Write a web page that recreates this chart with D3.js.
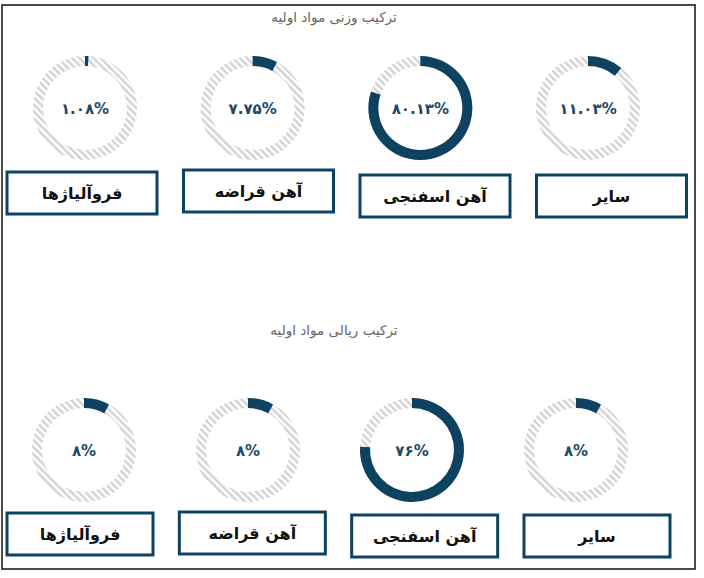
<!DOCTYPE html>
<html><head><meta charset="utf-8">
<script src="https://cdn.jsdelivr.net/npm/d3@7"></script>
<style>
html,body{margin:0;padding:0;background:#fff;}
svg{display:block;font-family:"DejaVu Sans",sans-serif;}
</style></head>
<body>
<svg id="chart" width="704" height="578"></svg>
<script>
// Data
const categories = ["سایر", "آهن اسفنجی", "آهن قراضه", "فروآلیاژها"];
const weightValues = [11.03, 80.13, 7.75, 1.08];
const weightLabels = ["۱۱.۰۳%", "۸۰.۱۳%", "۷.۷۵%", "۱.۰۸%"];
const rialValues = [8, 76, 8, 8];
const rialLabels = ["۸%", "۷۶%", "۸%", "۸%"];
const titles = ["ترکیب وزنی مواد اولیه", "ترکیب ریالی مواد اولیه"];

const svg = d3.select("#chart");
const dark = "#0d4260";

// frame
svg.append("rect").attr("x", 2).attr("y", 5).attr("width", 693).attr("height", 564)
  .attr("fill", "none").attr("stroke", "#111").attr("stroke-width", 1.5);

// hatch pattern
const defs = svg.append("defs");
const pat = defs.append("pattern").attr("id", "hatch").attr("patternUnits", "userSpaceOnUse")
  .attr("width", 5).attr("height", 5).attr("patternTransform", "rotate(-45)");
pat.append("rect").attr("width", 5).attr("height", 5).attr("fill", "#fff");
pat.append("rect").attr("x", 0).attr("width", 2.5).attr("height", 5).attr("fill", "#d3d3d3");

const angle = d3.scaleLinear().domain([0, 100]).range([0, 2 * Math.PI]);
const arc = d3.arc().innerRadius(42).outerRadius(52);

const rows = [
  { title: titles[0], titleY: 22, values: weightValues, labels: weightLabels,
    cx: d3.scalePoint().domain(categories).range([588, 85]), cy: 108,
    bx: d3.scalePoint().domain(categories).range([611.5, 82]), by: [175, 175, 170, 172], bw: 150, bh: 42 },
  { title: titles[1], titleY: 335, values: rialValues, labels: rialLabels,
    cx: d3.scalePoint().domain(categories).range([576, 84]), cy: 450,
    bx: d3.scalePoint().domain(categories).range([597, 80]), by: [515, 515, 512, 513], bw: 146, bh: 42 }
];

rows.forEach(r => {
  svg.append("text").attr("x", 334).attr("y", r.titleY).attr("text-anchor", "middle")
    .attr("font-size", 13.5).attr("fill", "#666").attr("direction", "rtl").attr("unicode-bidi", "plaintext")
    .text(r.title);

  categories.forEach((c, i) => {
    const g = svg.append("g").attr("transform", `translate(${r.cx(c)},${r.cy})`);
    g.append("path").attr("d", arc({ startAngle: 0, endAngle: 2 * Math.PI })).attr("fill", "url(#hatch)");
    g.append("path").attr("d", arc({ startAngle: 0, endAngle: angle(r.values[i]) })).attr("fill", dark);
    g.append("text").attr("y", 6).attr("text-anchor", "middle").attr("font-size", 15)
      .attr("font-weight", "bold").attr("fill", "#1c4b68").attr("direction", "ltr").text(r.labels[i]);

    const bx = r.bx(c);
    svg.append("rect").attr("x", bx - r.bw / 2).attr("y", r.by[i]).attr("width", r.bw).attr("height", r.bh)
      .attr("fill", "#fff").attr("stroke", dark).attr("stroke-width", 3);
    svg.append("text").attr("x", bx).attr("y", r.by[i] + r.bh / 2 + 6).attr("text-anchor", "middle")
      .attr("font-size", 16).attr("font-weight", "bold").attr("fill", "#111")
      .attr("direction", "rtl").text(c);
  });
});
</script>
</body></html>
